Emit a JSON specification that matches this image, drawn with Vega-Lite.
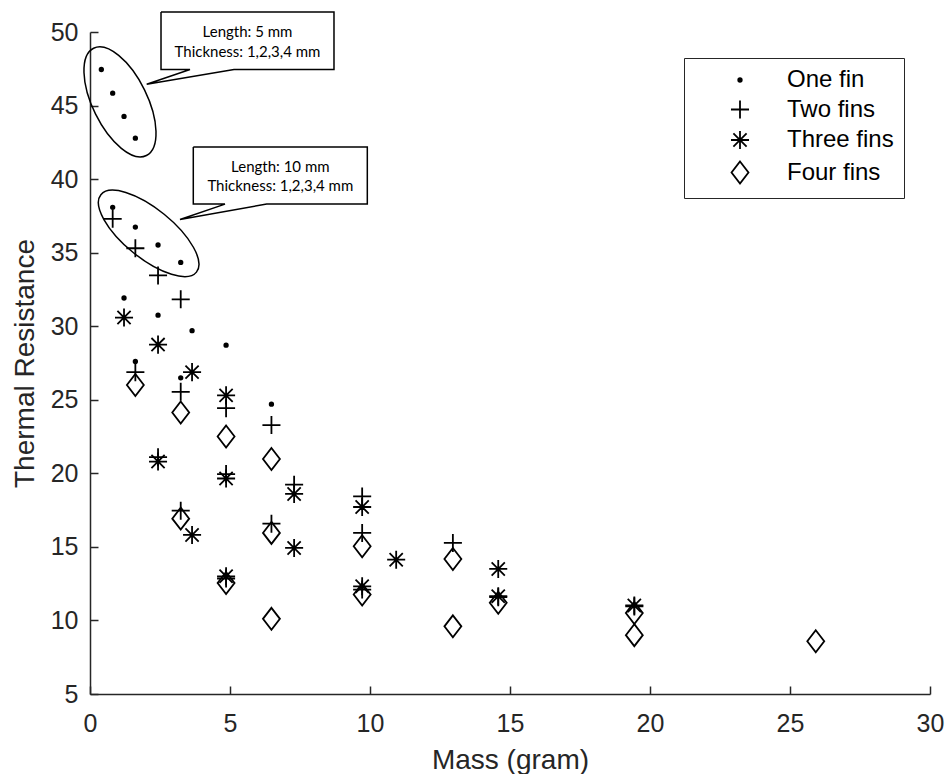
{
  "$schema": "https://vega.github.io/schema/vega-lite/v6.json",
  "width": 840,
  "height": 662,
  "autosize": "none",
  "padding": {"left": 90, "top": 32, "right": 16, "bottom": 80},
  "background": "white",
  "config": {
    "view": {"stroke": null},
    "axis": {
      "grid": false,
      "domainColor": "#262626",
      "domainWidth": 1.5,
      "tickColor": "#262626",
      "tickWidth": 1.5,
      "tickSize": -8,
      "labelFont": "Liberation Sans",
      "labelFontSize": 25,
      "labelColor": "#262626",
      "labelFlush": false,
      "titleFont": "Liberation Sans",
      "titleFontSize": 28,
      "titleFontWeight": "normal",
      "titleColor": "#262626"
    },
    "legend": {
      "orient": "top-right",
      "offset": 26,
      "padding": 10,
      "fillColor": "white",
      "strokeColor": "#262626",
      "strokeWidth": 1,
      "labelFont": "Liberation Sans",
      "labelFontSize": 24,
      "labelColor": "black",
      "symbolSize": 484,
      "symbolStrokeColor": "black",
      "symbolStrokeWidth": 1.8,
      "symbolOpacity": 1,
      "rowPadding": 4.5,
      "symbolOffset": 34,
      "labelOffset": 35
    }
  },
  "datasets": {
    "points": [
      {"mass": 0.405, "resistance": 47.45, "series": "One fin"},
      {"mass": 0.81, "resistance": 45.84, "series": "One fin"},
      {"mass": 1.215, "resistance": 44.26, "series": "One fin"},
      {"mass": 1.62, "resistance": 42.78, "series": "One fin"},
      {"mass": 0.81, "resistance": 38.08, "series": "One fin"},
      {"mass": 1.62, "resistance": 36.74, "series": "One fin"},
      {"mass": 2.43, "resistance": 35.52, "series": "One fin"},
      {"mass": 3.24, "resistance": 34.34, "series": "One fin"},
      {"mass": 1.215, "resistance": 31.92, "series": "One fin"},
      {"mass": 2.43, "resistance": 30.75, "series": "One fin"},
      {"mass": 3.645, "resistance": 29.7, "series": "One fin"},
      {"mass": 4.86, "resistance": 28.71, "series": "One fin"},
      {"mass": 1.62, "resistance": 27.6, "series": "One fin"},
      {"mass": 3.24, "resistance": 26.49, "series": "One fin"},
      {"mass": 6.48, "resistance": 24.7, "series": "One fin"},
      {"mass": 0.81, "resistance": 37.3, "series": "Two fins"},
      {"mass": 1.62, "resistance": 35.3, "series": "Two fins"},
      {"mass": 2.43, "resistance": 33.45, "series": "Two fins"},
      {"mass": 3.24, "resistance": 31.83, "series": "Two fins"},
      {"mass": 1.62, "resistance": 26.88, "series": "Two fins"},
      {"mass": 3.24, "resistance": 25.54, "series": "Two fins"},
      {"mass": 4.86, "resistance": 24.43, "series": "Two fins"},
      {"mass": 6.48, "resistance": 23.28, "series": "Two fins"},
      {"mass": 2.43, "resistance": 21.1, "series": "Two fins"},
      {"mass": 4.86, "resistance": 19.95, "series": "Two fins"},
      {"mass": 7.29, "resistance": 19.23, "series": "Two fins"},
      {"mass": 9.72, "resistance": 18.43, "series": "Two fins"},
      {"mass": 3.24, "resistance": 17.46, "series": "Two fins"},
      {"mass": 6.48, "resistance": 16.58, "series": "Two fins"},
      {"mass": 9.72, "resistance": 15.95, "series": "Two fins"},
      {"mass": 12.96, "resistance": 15.27, "series": "Two fins"},
      {"mass": 4.86, "resistance": 12.85, "series": "Two fins"},
      {"mass": 9.72, "resistance": 12.1, "series": "Two fins"},
      {"mass": 14.58, "resistance": 11.58, "series": "Two fins"},
      {"mass": 19.44, "resistance": 10.95, "series": "Two fins"},
      {"mass": 1.215, "resistance": 30.59, "series": "Three fins"},
      {"mass": 2.43, "resistance": 28.75, "series": "Three fins"},
      {"mass": 3.645, "resistance": 26.88, "series": "Three fins"},
      {"mass": 4.86, "resistance": 25.3, "series": "Three fins"},
      {"mass": 2.43, "resistance": 20.8, "series": "Three fins"},
      {"mass": 4.86, "resistance": 19.65, "series": "Three fins"},
      {"mass": 7.29, "resistance": 18.6, "series": "Three fins"},
      {"mass": 9.72, "resistance": 17.71, "series": "Three fins"},
      {"mass": 3.645, "resistance": 15.81, "series": "Three fins"},
      {"mass": 7.29, "resistance": 14.93, "series": "Three fins"},
      {"mass": 10.935, "resistance": 14.13, "series": "Three fins"},
      {"mass": 14.58, "resistance": 13.5, "series": "Three fins"},
      {"mass": 4.86, "resistance": 13.0, "series": "Three fins"},
      {"mass": 9.72, "resistance": 12.32, "series": "Three fins"},
      {"mass": 14.58, "resistance": 11.65, "series": "Three fins"},
      {"mass": 19.44, "resistance": 11.02, "series": "Three fins"},
      {"mass": 1.62, "resistance": 26.0, "series": "Four fins"},
      {"mass": 3.24, "resistance": 24.14, "series": "Four fins"},
      {"mass": 4.86, "resistance": 22.5, "series": "Four fins"},
      {"mass": 6.48, "resistance": 20.97, "series": "Four fins"},
      {"mass": 3.24, "resistance": 16.92, "series": "Four fins"},
      {"mass": 6.48, "resistance": 15.95, "series": "Four fins"},
      {"mass": 9.72, "resistance": 15.04, "series": "Four fins"},
      {"mass": 12.96, "resistance": 14.18, "series": "Four fins"},
      {"mass": 4.86, "resistance": 12.55, "series": "Four fins"},
      {"mass": 9.72, "resistance": 11.76, "series": "Four fins"},
      {"mass": 14.58, "resistance": 11.2, "series": "Four fins"},
      {"mass": 19.44, "resistance": 10.5, "series": "Four fins"},
      {"mass": 6.48, "resistance": 10.11, "series": "Four fins"},
      {"mass": 12.96, "resistance": 9.6, "series": "Four fins"},
      {"mass": 19.44, "resistance": 9.0, "series": "Four fins"},
      {"mass": 25.92, "resistance": 8.59, "series": "Four fins"}
    ],
    "callouts": [
      {"id": "c1", "seq": 1, "mass": 2.536, "resistance": 51.36},
      {"id": "c1", "seq": 2, "mass": 8.714, "resistance": 51.36},
      {"id": "c1", "seq": 3, "mass": 8.714, "resistance": 47.45},
      {"id": "c1", "seq": 4, "mass": 5.143, "resistance": 47.45},
      {"id": "c1", "seq": 5, "mass": 2.025, "resistance": 46.45},
      {"id": "c1", "seq": 6, "mass": 3.571, "resistance": 47.45},
      {"id": "c1", "seq": 7, "mass": 2.536, "resistance": 47.45},
      {"id": "c1", "seq": 8, "mass": 2.536, "resistance": 51.36},
      {"id": "c2", "seq": 1, "mass": 3.689, "resistance": 42.19},
      {"id": "c2", "seq": 2, "mass": 9.904, "resistance": 42.19},
      {"id": "c2", "seq": 3, "mass": 9.904, "resistance": 38.3},
      {"id": "c2", "seq": 4, "mass": 6.311, "resistance": 38.3},
      {"id": "c2", "seq": 5, "mass": 3.214, "resistance": 37.26},
      {"id": "c2", "seq": 6, "mass": 4.821, "resistance": 38.3},
      {"id": "c2", "seq": 7, "mass": 3.689, "resistance": 38.3},
      {"id": "c2", "seq": 8, "mass": 3.689, "resistance": 42.19}
    ],
    "labels": [
      {"mass": 5.625, "resistance": 50.0, "label": "Length: 5 mm"},
      {"mass": 5.625, "resistance": 48.66, "label": "Thickness: 1,2,3,4 mm"},
      {"mass": 6.797, "resistance": 40.83, "label": "Length: 10 mm"},
      {"mass": 6.797, "resistance": 39.52, "label": "Thickness: 1,2,3,4 mm"}
    ],
    "ellipses": [
      {"id": "e1", "mass": 1.071, "resistance": 45.25},
      {"id": "e2", "mass": 2.095, "resistance": 36.31}
    ]
  },
  "encoding": {
    "x": {
      "field": "mass",
      "type": "quantitative",
      "scale": {"domain": [0, 30], "nice": false, "zero": false},
      "axis": {"values": [0, 5, 10, 15, 20, 25, 30], "labelPadding": 25, "title": "Mass (gram)", "titleX": 420, "titleY": 74, "titleBaseline": "alphabetic"}
    },
    "y": {
      "field": "resistance",
      "type": "quantitative",
      "scale": {"domain": [5, 50], "nice": false, "zero": false},
      "axis": {"values": [5, 10, 15, 20, 25, 30, 35, 40, 45, 50], "labelPadding": 20, "title": "Thermal Resistance", "titleX": -65, "titleY": 331, "titleAngle": -90, "titleBaseline": "middle", "titleAlign": "center"}
    }
  },
  "layer": [
    {
      "data": {"name": "points"},
      "mark": {"type": "point", "size": 484, "strokeWidth": 1.8, "opacity": 1, "strokeCap": "butt"},
      "encoding": {
        "shape": {
          "field": "series",
          "type": "nominal",
          "scale": {
            "domain": ["One fin", "Two fins", "Three fins", "Four fins"],
            "range": [
              "M0.16,0C0.16,0.0884,0.0884,0.16,0,0.16C-0.0884,0.16,-0.16,0.0884,-0.16,0C-0.16,-0.0884,-0.0884,-0.16,0,-0.16C0.0884,-0.16,0.16,-0.0884,0.16,0Z",
              "M-0.82,0L0.82,0M0,-0.82L0,0.82",
              "M-0.82,0L0.82,0M0,-0.82L0,0.82M-0.6,-0.6L0.6,0.6M-0.6,0.6L0.6,-0.6",
              "M0,-1L0.77,0L0,1L-0.77,0Z"
            ]
          },
          "legend": {"title": null, "symbolOffset": 34, "labelOffset": 35, "rowPadding": 4.5}
        },
        "fill": {
          "field": "series",
          "type": "nominal",
          "scale": {
            "domain": ["One fin", "Two fins", "Three fins", "Four fins"],
            "range": ["black", "transparent", "transparent", "transparent"]
          },
          "legend": {"title": null, "symbolOffset": 34, "labelOffset": 35, "rowPadding": 4.5}
        },
        "stroke": {
          "field": "series",
          "type": "nominal",
          "scale": {
            "domain": ["One fin", "Two fins", "Three fins", "Four fins"],
            "range": ["black", "black", "black", "black"]
          },
          "legend": {"title": null, "symbolOffset": 34, "labelOffset": 35, "rowPadding": 4.5}
        }
      }
    },
    {
      "data": {"name": "ellipses"},
      "transform": [{"filter": "datum.id === 'e1'"}],
      "mark": {
        "type": "point",
        "shape": "M1,0C1,0.2524,0.5523,0.457,0,0.457C-0.5523,0.457,-1,0.2524,-1,0C-1,-0.2524,-0.5523,-0.457,0,-0.457C0.5523,-0.457,1,-0.2524,1,0Z",
        "size": 14304,
        "angle": 63.8,
        "filled": false,
        "stroke": "black",
        "strokeWidth": 1.5,
        "opacity": 1
      }
    },
    {
      "data": {"name": "ellipses"},
      "transform": [{"filter": "datum.id === 'e2'"}],
      "mark": {
        "type": "point",
        "shape": "M1,0C1,0.2209,0.5523,0.4,0,0.4C-0.5523,0.4,-1,0.2209,-1,0C-1,-0.2209,-0.5523,-0.4,0,-0.4C0.5523,-0.4,1,-0.2209,1,0Z",
        "size": 15129,
        "angle": 39,
        "filled": false,
        "stroke": "black",
        "strokeWidth": 1.5,
        "opacity": 1
      }
    },
    {
      "data": {"name": "callouts"},
      "mark": {"type": "line", "stroke": "black", "strokeWidth": 1.5, "strokeJoin": "miter"},
      "encoding": {
        "order": {"field": "seq", "type": "quantitative"},
        "detail": {"field": "id", "type": "nominal"}
      }
    },
    {
      "data": {"name": "labels"},
      "mark": {"type": "text", "font": "Lato", "fontSize": 15, "align": "center", "baseline": "middle", "color": "black"},
      "encoding": {
        "text": {"field": "label", "type": "nominal"}
      }
    }
  ]
}
